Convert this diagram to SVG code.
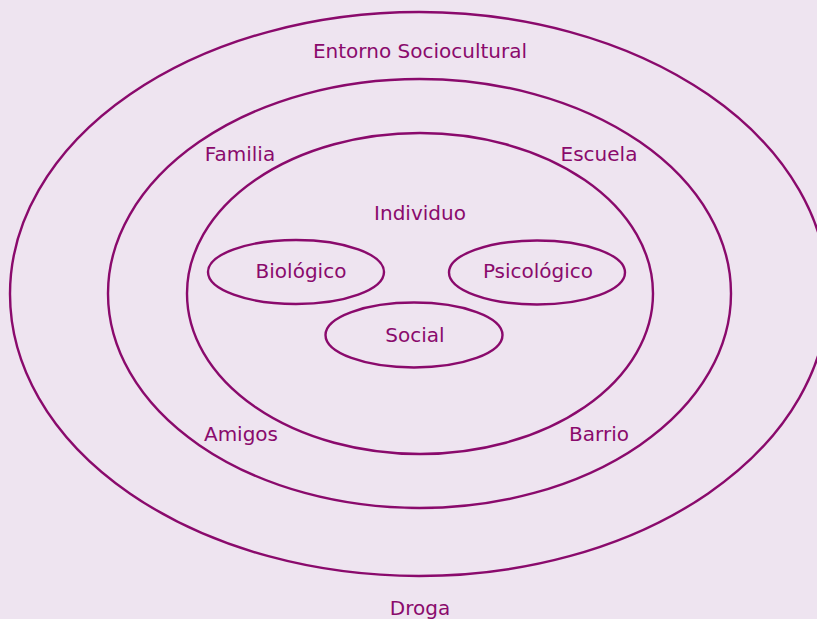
<svg xmlns="http://www.w3.org/2000/svg" width="817" height="619" viewBox="0 0 817 619">
<style>
.e{fill:none;stroke:#8a0a6c;stroke-width:2.4}
.t{font-family:"DejaVu Sans",sans-serif;font-size:20px;fill:#8a0a6c;text-anchor:middle}
</style>
<rect width="817" height="619" fill="#eee4f0"/>
<g id="entorno"><ellipse class="e" cx="419" cy="294" rx="409" ry="282"/><text class="t" x="420" y="58">Entorno Sociocultural</text></g>
<g id="medio"><ellipse class="e" cx="419.5" cy="293.5" rx="311.5" ry="214.5"/></g>
<g id="familia"><text class="t" x="240" y="161">Familia</text></g>
<g id="escuela"><text class="t" x="599" y="161">Escuela</text></g>
<g id="amigos"><text class="t" x="241" y="441">Amigos</text></g>
<g id="barrio"><text class="t" x="599" y="441">Barrio</text></g>
<g id="individuo"><ellipse class="e" cx="420" cy="293.5" rx="233" ry="160.5"/><text class="t" x="420" y="220">Individuo</text></g>
<g id="biologico"><ellipse class="e" cx="296" cy="272" rx="88" ry="32"/><text class="t" x="301" y="278">Biológico</text></g>
<g id="psicologico"><ellipse class="e" cx="537" cy="272.5" rx="88" ry="32"/><text class="t" x="538" y="278">Psicológico</text></g>
<g id="social"><ellipse class="e" cx="414" cy="335" rx="88.5" ry="32.5"/><text class="t" x="415" y="342">Social</text></g>
<g id="droga"><text class="t" x="420" y="615">Droga</text></g>
<g id="connectors"/>
</svg>
